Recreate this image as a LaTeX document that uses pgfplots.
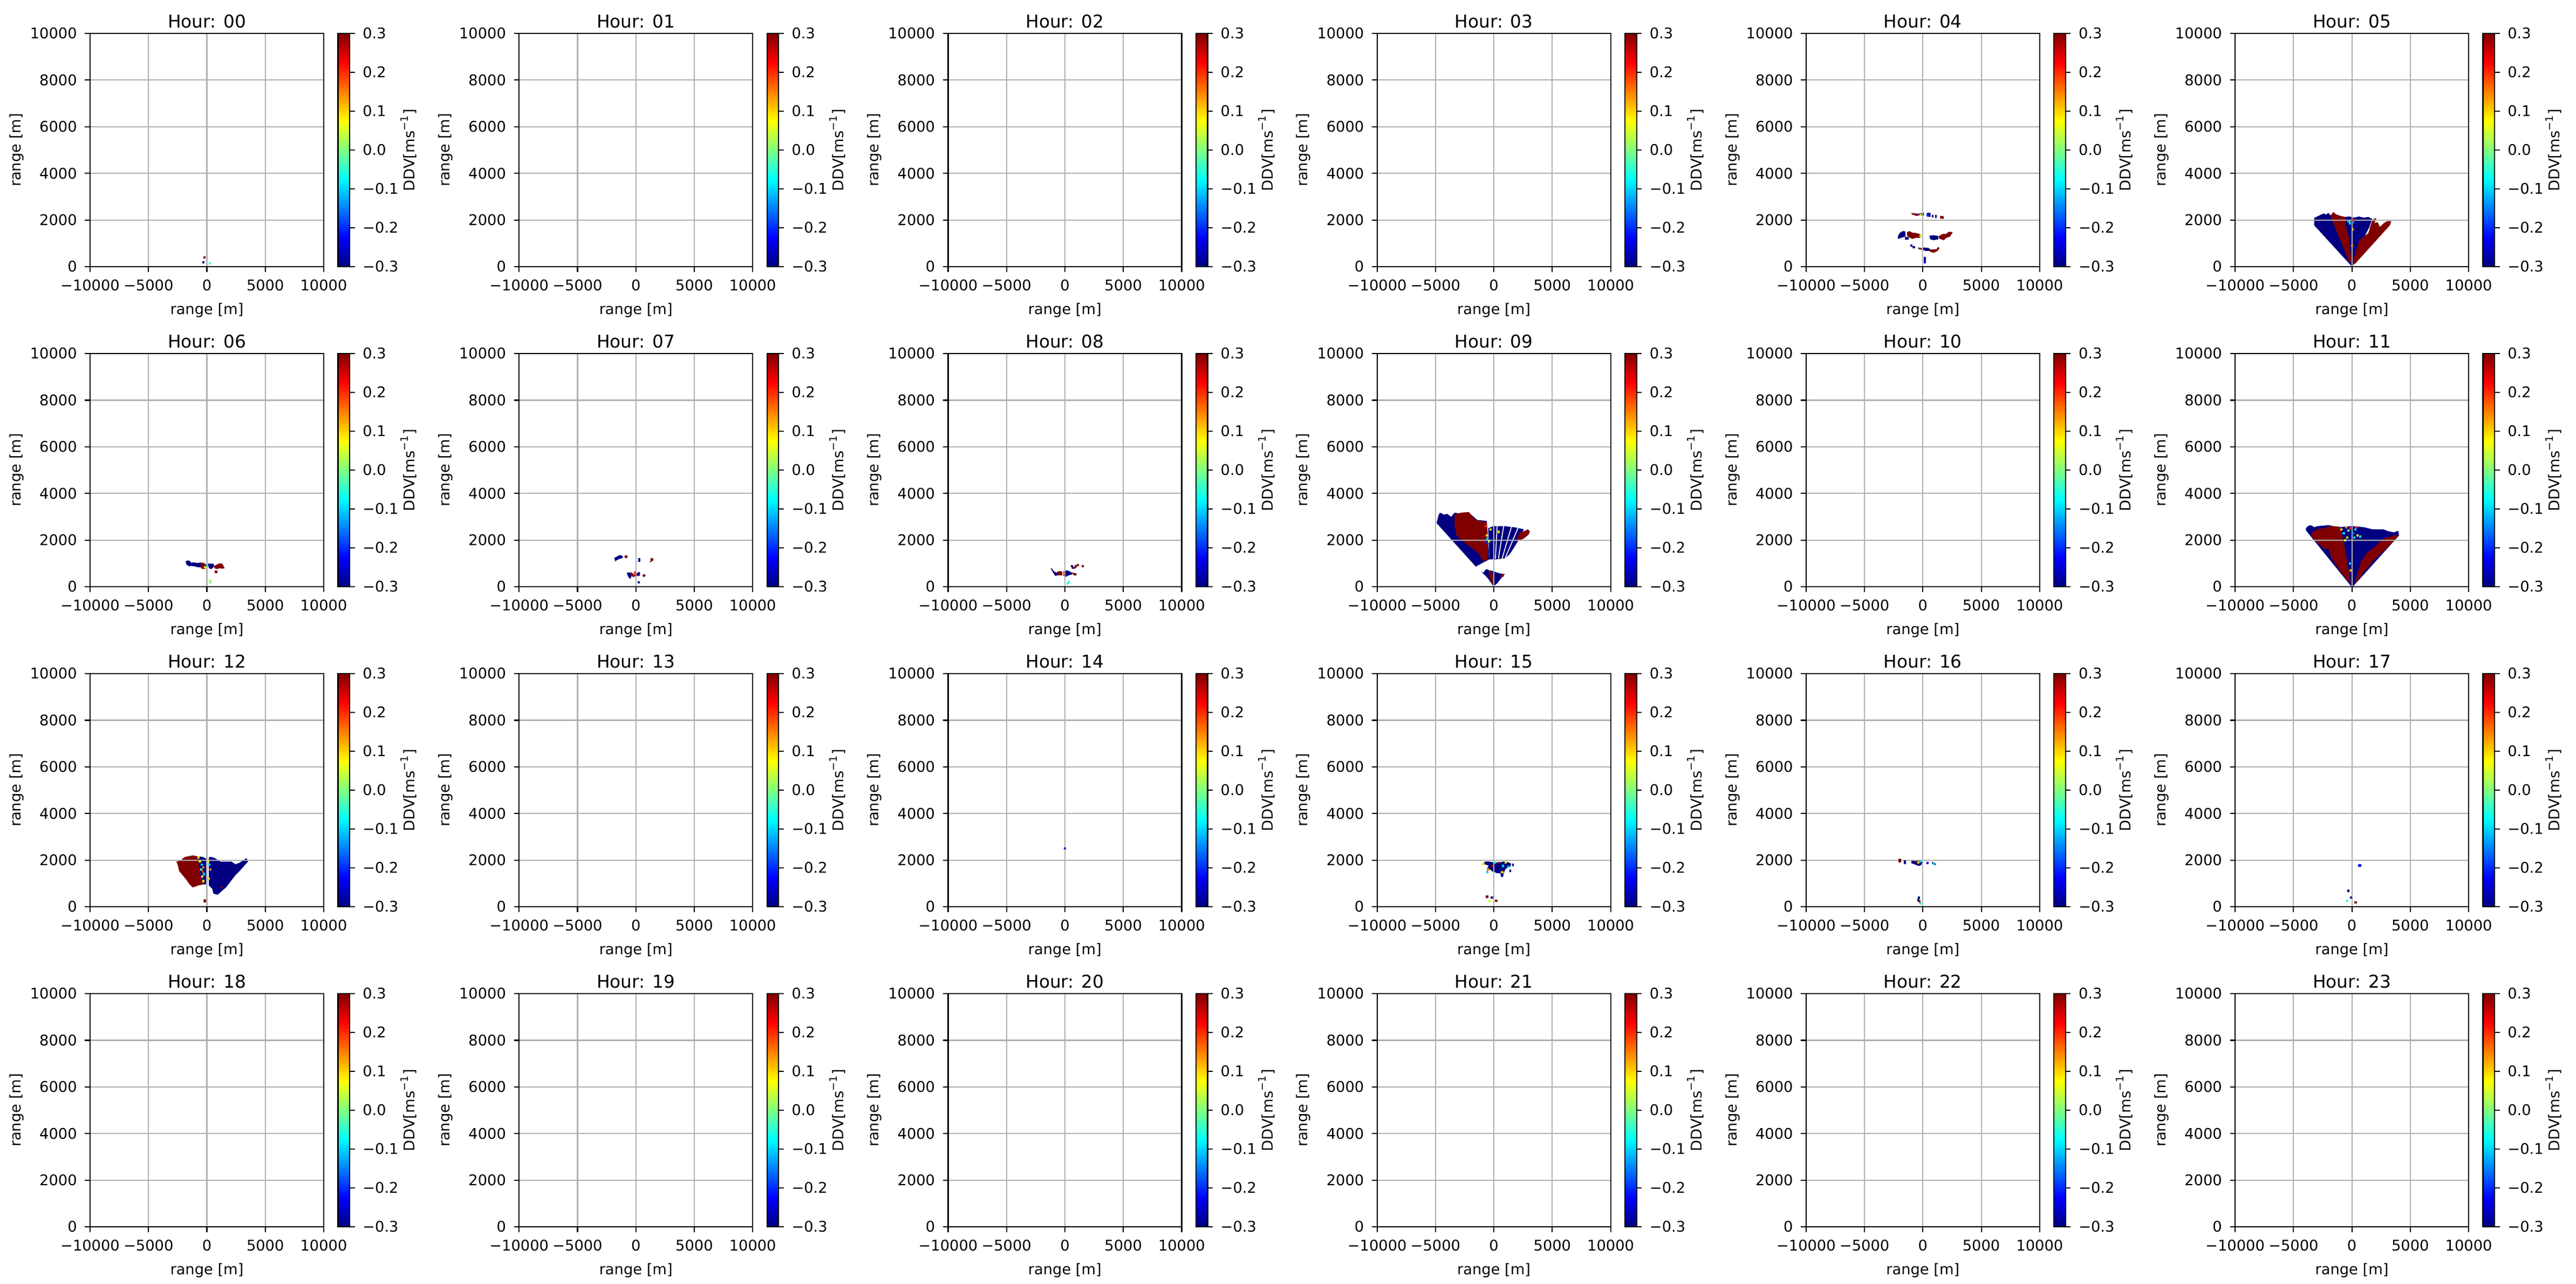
\documentclass[border=0pt]{standalone}
\usepackage{fontspec}
\setmainfont{DejaVu Sans}
\usepackage{pgfplots}
\pgfplotsset{compat=1.18}
\definecolor{dblue}{rgb}{0,0,0.5}
\definecolor{dred}{rgb}{0.5,0,0}
\definecolor{gridgray}{HTML}{B0B0B0}
\newcommand{\fs}{\fontsize{6.55pt}{7.8pt}\selectfont}
\newcommand{\ft}{\fontsize{7.86pt}{9.4pt}\selectfont}
\pgfplotsset{
  tick label style={font=\fs},
  label style={font=\fs},
  major tick length=2.3pt,
  every tick/.style={black, line width=0.52pt},
  axis line style={line width=0.52pt},
  poly/.style={draw=none, mark=none, forget plot},
  spk/.style={scatter, only marks, mark=square*, mark size=0.3pt, point meta=explicit, forget plot,
              scatter/use mapped color={draw=mapped color, fill=mapped color}},
  panel/.style={
    anchor=north west, scale only axis, width=103.92pt, height=103.68pt,
    xmin=-10000, xmax=10000, ymin=0, ymax=10000,
    xtick={-10000,-5000,0,5000,10000}, xticklabels={−10000,−5000,0,5000,10000},
    ytick={0,2000,4000,6000,8000,10000}, yticklabels={0,2000,4000,6000,8000,10000},
    scaled ticks=false, tick align=outside, tick pos=left,
    grid=major, grid style={gridgray, line width=0.52pt},
    axis on top, xlabel={range [m]}, ylabel={range [m]},
    xlabel style={yshift=1.5pt}, ylabel shift=-4pt,
    title style={font=\ft, yshift=-7.1pt},
    colormap/jet, point meta min=-0.3, point meta max=0.3,
    colorbar,
    colorbar style={at={(parent axis.north east)}, anchor=north west, xshift=-2.18pt,
      width=5.16pt, height=103.68pt, scale only axis,
      ytick={-0.3,-0.2,-0.1,0,0.1,0.2,0.3}, yticklabels={−0.3,−0.2,−0.1,0.0,0.1,0.2,0.3},
      ytick pos=right, yticklabel pos=right, tick align=outside,
      ylabel={DDV[ms\textsuperscript{−1}]}, ylabel shift=-6pt},
  }
}
\begin{document}
\begin{tikzpicture}
\path[use as bounding box] (0,0) rectangle (1146pt,-570.72pt);
% ---------------- row 0
\begin{axis}[panel, at={(40.08pt,-14.88pt)}, title={Hour: 00}]
\addplot[spk] coordinates {(-190,400) [0.3] (-300,195) [-0.3] (260,133) [-0.05]};
\end{axis}
\begin{axis}[panel, at={(230.93pt,-14.88pt)}, title={Hour: 01}]
\end{axis}
\begin{axis}[panel, at={(421.78pt,-14.88pt)}, title={Hour: 02}]
\end{axis}
\begin{axis}[panel, at={(612.63pt,-14.88pt)}, title={Hour: 03}]
\end{axis}
\begin{axis}[panel, at={(803.48pt,-14.88pt)}, title={Hour: 04}]
\addplot[poly, fill=dred] coordinates {(-1060,2331) (-983,2293) (-753,2293) (-599,2277) (-369,2277) (-369,2192) (-599,2177) (-753,2215) (-906,2231)} -- cycle;
\addplot[poly, fill=dblue] coordinates {(-369,2277) (92,2308) (92,2192) (-369,2192)} -- cycle;
\addplot[poly, fill=dblue] coordinates {(323,2308) (660,2308) (660,2138) (399,2138)} -- cycle;
\addplot[poly, fill=dblue] coordinates {(783,2216) (906,2216) (906,2100) (783,2100)} -- cycle;
\addplot[poly, fill=dblue] coordinates {(1060,2216) (1167,2216) (1167,2084) (1060,2084)} -- cycle;
\addplot[poly, fill=dred] coordinates {(1475,2177) (1782,2162) (1782,2046) (1475,2061)} -- cycle;
\addplot[poly, fill=dblue] coordinates {(-2135,1312) (-1982,1444) (-1751,1521) (-1521,1521) (-1490,1405) (-1490,1289) (-1751,1250) (-1982,1212) (-2135,1189)} -- cycle;
\addplot[poly, fill=dblue] coordinates {(-1521,1266) (-1213,1266) (-1213,1158) (-1521,1158)} -- cycle;
\addplot[poly, fill=dred] coordinates {(-1367,1482) (-1137,1521) (-906,1459) (-599,1444) (-215,1390) (-215,1235) (-599,1235) (-906,1189) (-1213,1266) (-1367,1328)} -- cycle;
\addplot[poly, fill=dblue] coordinates {(553,1328) (937,1343) (1321,1312) (1321,1173) (937,1135) (630,1173)} -- cycle;
\addplot[poly, fill=dred] coordinates {(1367,1312) (1705,1405) (2012,1405) (2166,1482) (2350,1498) (2550,1467) (2320,1289) (2012,1235) (1782,1135) (1551,1173) (1367,1212)} -- cycle;
\addplot[poly, fill=dred] coordinates {(-415,826) (-61,788) (-61,726) (-369,749)} -- cycle;
\addplot[poly, fill=dblue] coordinates {(-61,826) (476,803) (630,749) (630,672) (246,672) (-61,726)} -- cycle;
\addplot[poly, fill=dred] coordinates {(553,726) (1167,749) (1321,849) (1428,788) (1244,672) (937,595) (630,633)} -- cycle;
\addplot[spk] coordinates {(169,360) [-0.3] (169,250) [-0.3] (185,180) [-0.25] (-983,903) [-0.3] (-783,826) [-0.3] (-215,1312) [0.05] (-215,2231) [0.05] (420,2200) [-0.2]};
\end{axis}
\begin{axis}[panel, at={(994.33pt,-14.88pt)}, title={Hour: 05}]
\addplot[poly, fill=dblue] coordinates {(-3236,1776) (-3236,2087) (-3050,2130) (-2850,2180) (-2600,2240) (-2400,2280) (-2200,2230) (-2017,2310) (-1830,2200) (-610,2131) (-200,2150) (200,2100) (600,2150) (1000,2100) (1400,2130) (1735,2050) (1500,1700) (1100,1300) (700,850) (300,350) (100,50) (-80,50)} -- cycle;
\addplot[poly, fill=dred] coordinates {(-1830,2176) (-1700,2280) (-1550,2340) (-1400,2250) (-1000,2180) (-610,2131) (-492,1687) (-258,1243) (-23,178) (-258,222) (-844,977) (-1313,1510)} -- cycle;
\addplot[poly, fill=dred] coordinates {(94,266) (680,1154) (1383,1421) (1600,1700) (1800,1850) (2204,1909) (2400,1700) (2700,1850) (3000,1950) (3377,1954) (3260,1776) (211,89)} -- cycle;
\addplot[poly, fill=dred] coordinates {(1500,1600) (1750,2000) (2100,2100) (1900,1800)} -- cycle;
\addplot[spk] coordinates {(-200,1950) [0.1] (-150,1850) [-0.1] (100,1900) [-0.15] (50,1600) [0.12] (0,900) [0.15] (-300,1950) [-0.12] (60,2000) [0.2]};
\end{axis}
% ---------------- row 1
\begin{axis}[panel, at={(40.08pt,-157.2pt)}, title={Hour: 06}]
\addplot[poly, fill=dblue] coordinates {(-1828,1066) (-1674,1128) (-1444,1104) (-1367,1027) (-1137,1043) (-830,1019) (-522,1035) (-522,832) (-753,832) (-1060,871) (-1367,894) (-1521,871) (-1751,949)} -- cycle;
\addplot[poly, fill=dred] coordinates {(-522,1035) (-292,1027) (-61,949) (-138,755) (-445,770) (-522,832)} -- cycle;
\addplot[poly, fill=dblue] coordinates {(92,988) (553,988) (630,895) (553,832) (399,755) (169,794)} -- cycle;
\addplot[poly, fill=dred] coordinates {(630,895) (1091,1004) (1321,988) (1398,910) (1521,794) (1321,770) (1091,794) (860,755) (630,794)} -- cycle;
\addplot[spk] coordinates {(783,638) [0.3] (-138,832) [0.1] (15,910) [-0.1] (292,187) [0] (280,260) [0.02]};
\end{axis}
\begin{axis}[panel, at={(230.93pt,-157.2pt)}, title={Hour: 07}]
\addplot[poly, fill=dblue] coordinates {(-1843,1237) (-1674,1276) (-1475,1338) (-1290,1354) (-1137,1315) (-1106,1237) (-1444,1183) (-1674,1128) (-1766,1082)} -- cycle;
\addplot[poly, fill=dred] coordinates {(1275,1237) (1475,1206) (1506,1128) (1321,1082) (1214,1027)} -- cycle;
\addplot[poly, fill=dblue] coordinates {(-783,599) (-553,614) (-399,560) (-399,405) (-492,327) (-676,444)} -- cycle;
\addplot[poly, fill=dred] coordinates {(-445,638) (-138,521) (-138,405) (-369,444)} -- cycle;
\addplot[poly, fill=dblue] coordinates {(-92,700) (-31,521) (246,638) (369,599) (322,459) (92,459)} -- cycle;
\addplot[poly, fill=dred] coordinates {(553,506) (783,537) (830,459) (630,405)} -- cycle;
\addplot[spk] coordinates {(-845,1284) [0.3] (276,1183) [-0.3] (276,1110) [-0.3] (-61,600) [0.2] (-100,480) [0.25] (246,194) [-0.3]};
\end{axis}
\begin{axis}[panel, at={(421.78pt,-157.2pt)}, title={Hour: 08}]
\addplot[poly, fill=dblue] coordinates {(-1183,814) (-1091,760) (-906,643) (-676,605) (-599,643) (-599,488) (-830,465) (-983,589) (-1183,744)} -- cycle;
\addplot[poly, fill=dred] coordinates {(-599,659) (-292,667) (-215,605) (-215,488) (-599,488)} -- cycle;
\addplot[poly, fill=dblue] coordinates {(-138,643) (92,698) (322,682) (476,628) (630,605) (630,527) (322,488) (15,411) (-138,488)} -- cycle;
\addplot[poly, fill=dred] coordinates {(630,605) (860,581) (1014,566) (937,465) (706,512)} -- cycle;
\addplot[spk] coordinates {(620,880) [-0.3] (690,820) [-0.3] (783,810) [0.3] (937,870) [0.3] (1121,930) [0.3] (1521,880) [0.3] (246,140) [-0.05] (322,201) [-0.05] (-30,560) [0.15]};
\end{axis}
\begin{axis}[panel, at={(612.63pt,-157.2pt)}, title={Hour: 09}]
\addplot[poly, fill=dblue] coordinates {(-4912,2729) (-4724,3085) (-4606,3174) (-4254,3085) (-4019,3129) (-3666,2996) (-3361,3174) (-2844,3129) (-2186,3200) (-1434,2863) (-611,2818) (-494,1974) (-376,1173) (-729,1085) (-1551,862)} -- cycle;
\addplot[poly, fill=dred] coordinates {(-3361,3085) (-2844,3174) (-2140,3200) (-1669,2907) (-1316,2818) (-611,2774) (-494,1974) (-494,1173) (-917,1085) (-1316,1440) (-2609,1929) (-3196,2196) (-3361,2596)} -- cycle;
\addplot[poly, fill=dblue] coordinates {(-494,2507) (-23,2596) (917,2596) (1850,2540) (2562,2462) (2300,2200) (2000,1900) (1500,1500) (1269,1351) (917,1218) (188,1173) (-376,1173)} -- cycle;
\addplot[poly, fill=dred] coordinates {(1974,2062) (2209,2329) (2562,2373) (2914,2462) (3079,2373) (2985,2240) (2562,2062) (2209,1991)} -- cycle;
\addplot[poly, fill=dblue] coordinates {(-1081,640) (-900,600) (-760,700) (-611,756) (-400,700) (-150,680) (300,600) (600,560) (917,533) (600,350) (300,150) (50,50) (-100,60) (-500,350) (-850,530)} -- cycle;
\addplot[poly, fill=dred] coordinates {(-450,690) (-250,680) (-80,500) (-30,100) (-200,150) (-350,400)} -- cycle;
\addplot[poly, fill=dred] coordinates {(500,480) (917,560) (800,420) (600,420)} -- cycle;
\addplot[white, line width=0.4pt, mark=none, forget plot] coordinates {(128,1200) (278,2600)};
\addplot[white, line width=0.4pt, mark=none, forget plot] coordinates {(385,1200) (835,2600)};
\addplot[white, line width=0.4pt, mark=none, forget plot] coordinates {(700,1200) (1517,2600)};
\addplot[white, line width=0.4pt, mark=none, forget plot] coordinates {(986,1250) (2136,2600)};
\addplot[spk] coordinates {(-600,2200) [0.1] (-550,2050) [-0.1] (-420,1950) [0.05] (400,2350) [0.1] (-300,2450) [0.1] (-650,1900) [-0.2] (-700,2600) [0.2]};
\end{axis}
\begin{axis}[panel, at={(803.48pt,-157.2pt)}, title={Hour: 10}]
\end{axis}
\begin{axis}[panel, at={(994.33pt,-157.2pt)}, title={Hour: 11}]
\addplot[poly, fill=dblue] coordinates {(-3940,2507) (-3775,2596) (-3541,2640) (-3189,2551) (-2955,2596) (-2017,2640) (-1079,2551) (0,2596) (1032,2551) (1735,2463) (2673,2463) (3142,2374) (3611,2329) (3963,2400) (4033,2196) (141,36) (-94,36) (-3940,2418)} -- cycle;
\addplot[poly, fill=dred] coordinates {(-3471,2311) (-2955,2463) (-2486,2507) (-1782,2596) (-1079,2578) (-938,2463) (-727,1974) (-492,1351) (-94,151) (-258,196) (-961,640) (-1548,1085) (-2017,1440) (-2720,1796) (-3189,1974) (-3424,2151)} -- cycle;
\addplot[poly, fill=dred] coordinates {(2556,1991) (2908,2107) (3377,2151) (3728,2240) (3963,2169) (3611,1974) (2908,1618) (1970,1173) (1032,640) (234,89) (446,551) (797,1085) (1266,1440) (1970,1707)} -- cycle;
\addplot[poly, fill=dblue] coordinates {(-2300,1600) (-2000,1650) (-1800,1300) (-2100,1350)} -- cycle;
\addplot[spk] coordinates {(-900,2450) [0.1] (-700,2300) [-0.1] (-500,2550) [0.15] (-300,2400) [0] (-100,2500) [0.2] (100,2300) [-0.15] (300,2450) [-0.1] (500,2200) [0.05] (-400,2100) [0.1] (200,2100) [-0.1] (-600,2000) [0.05] (-150,1000) [-0.1] (-100,700) [0.12] (400,2550) [0.2] (700,2150) [-0.05]};
\end{axis}
% ---------------- row 2
\begin{axis}[panel, at={(40.08pt,-299.52pt)}, title={Hour: 12}]
\addplot[poly, fill=dred] coordinates {(-2617,1936) (-2264,1980) (-1910,2131) (-1203,2202) (-778,2158) (-684,1803) (-542,1359) (-259,959) (-731,915) (-1203,826) (-1486,959) (-1792,1181) (-2382,1536) (-2500,1803)} -- cycle;
\addplot[poly, fill=dblue] coordinates {(-778,2158) (-377,2140) (-71,2069) (-24,959) (-259,959) (-542,1359) (-684,1803)} -- cycle;
\addplot[poly, fill=dblue] coordinates {(165,2113) (330,2140) (684,2087) (1155,1936) (2099,1936) (2452,1820) (2806,1891) (3396,2087) (3514,1936) (2806,1536) (2452,1359) (1627,826) (920,515) (566,559) (448,781) (165,915)} -- cycle;
\addplot[poly, fill=dred] coordinates {(-300,300) (-100,330) (-50,200) (-250,170)} -- cycle;
\addplot[spk] coordinates {(-600,1950) [0.1] (-450,1800) [-0.1] (-300,1700) [0.15] (-500,1600) [0] (-350,1500) [0.2] (-250,1400) [-0.1] (-400,1300) [0.05] (-300,1100) [0.1] (100,1950) [0.1] (200,1800) [-0.1] (300,1600) [0.15] (150,1200) [0.1] (-700,2100) [0.1] (1273,826) [0.3]};
\end{axis}
\begin{axis}[panel, at={(230.93pt,-299.52pt)}, title={Hour: 13}]
\end{axis}
\begin{axis}[panel, at={(421.78pt,-299.52pt)}, title={Hour: 14}]
\addplot[spk] coordinates {(0,2500) [-0.2]};
\end{axis}
\begin{axis}[panel, at={(612.63pt,-299.52pt)}, title={Hour: 15}]
\addplot[poly, fill=dblue] coordinates {(-829,1922) (-522,1945) (-61,1906) (399,1891) (860,1945) (1321,1891) (1475,1844) (1398,1712) (1014,1634) (860,1478) (783,1284) (630,1268) (553,1439) (246,1439) (92,1478) (-138,1517) (-292,1595) (-522,1595) (-553,1439) (-599,1478) (-553,1673) (-445,1766) (-829,1828)} -- cycle;
\addplot[poly, fill=dblue] coordinates {(1551,1844) (1705,1844) (1705,1735) (1551,1735)} -- cycle;
\addplot[poly, fill=dblue] coordinates {(1321,1595) (1475,1595) (1475,1478) (1321,1478)} -- cycle;
\addplot[spk] coordinates {(-906,1828) [0.1] (-522,1610) [0.15] (-553,1478) [-0.1] (-138,1750) [0.3] (92,1906) [-0.05] (399,1867) [0.3] (783,1750) [-0.1] (1244,1712) [-0.08] (707,1478) [0.1] (1014,1906) [0.1] (-584,428) [0.3] (-169,389) [-0.3] (-353,249) [0.05] (200,249) [0.3]};
\end{axis}
\begin{axis}[panel, at={(803.48pt,-299.52pt)}, title={Hour: 16}]
\addplot[poly, fill=dblue] coordinates {(-983,1968) (-599,1961) (-138,1984) (-61,1906) (-138,1789) (-369,1750) (-753,1828) (-983,1867)} -- cycle;
\addplot[poly, fill=dblue] coordinates {(783,1922) (937,1891) (1137,1844) (1091,1789) (860,1813) (783,1860)} -- cycle;
\addplot[spk] coordinates {(-1981,2007) [0.3] (-1981,1953) [0.3] (-1551,1945) [-0.3] (-1551,1880) [-0.3] (-492,1922) [0.3] (-369,1891) [0.05] (-215,1945) [-0.1] (399,1867) [-0.25] (937,1828) [-0.1] (-338,389) [-0.3] (-369,288) [-0.3] (-307,226) [0.3] (-215,132) [-0.05]};
\end{axis}
\begin{axis}[panel, at={(994.33pt,-299.52pt)}, title={Hour: 17}]
\addplot[spk] coordinates {(640,1760) [-0.25] (690,1770) [-0.25] (-306,685) [-0.3] (-60,397) [-0.3] (-400,250) [-0.05] (320,180) [0.3]};
\end{axis}
% ---------------- row 3
\begin{axis}[panel, at={(40.08pt,-441.84pt)}, title={Hour: 18}]
\end{axis}
\begin{axis}[panel, at={(230.93pt,-441.84pt)}, title={Hour: 19}]
\end{axis}
\begin{axis}[panel, at={(421.78pt,-441.84pt)}, title={Hour: 20}]
\end{axis}
\begin{axis}[panel, at={(612.63pt,-441.84pt)}, title={Hour: 21}]
\end{axis}
\begin{axis}[panel, at={(803.48pt,-441.84pt)}, title={Hour: 22}]
\end{axis}
\begin{axis}[panel, at={(994.33pt,-441.84pt)}, title={Hour: 23}]
\end{axis}
\end{tikzpicture}
\end{document}
